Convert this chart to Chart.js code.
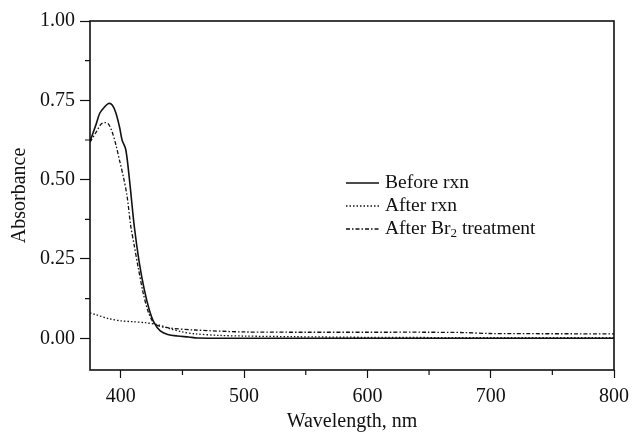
<!DOCTYPE html>
<html>
<head>
<meta charset="utf-8">
<script src="https://cdn.jsdelivr.net/npm/chart.js@4/dist/chart.umd.min.js"></script>
<style>
  html, body { margin: 0; padding: 0; background: #fff; }
  #wrap { width: 633px; height: 432px; }
</style>
</head>
<body>
<div id="wrap"><canvas id="uvChart" width="633" height="432"></canvas></div>
<script>
// --- Données ---
const beforeWl  = [375, 380, 383, 387, 390, 393, 396, 399, 401, 404, 407, 411, 415, 419, 423, 427, 432, 438, 446, 455, 462, 500, 600, 700, 800];
const beforeAbs = [0.62, 0.675, 0.71, 0.73, 0.74, 0.735, 0.71, 0.665, 0.625, 0.595, 0.50, 0.35, 0.238, 0.154, 0.091, 0.049, 0.023, 0.012, 0.007, 0.004, 0.001, 0.0, 0.0, 0.0, 0.0];

const afterWl  = [375, 380, 390, 400, 410, 420, 430, 440, 450, 460, 480, 500, 540, 600, 700, 800];
const afterAbs = [0.08, 0.074, 0.062, 0.055, 0.052, 0.049, 0.043, 0.03, 0.02, 0.014, 0.009, 0.007, 0.005, 0.003, 0.002, 0.002];

const brWl  = [375, 380, 384, 387, 390, 393, 396, 399, 402, 405, 408, 411, 414, 418, 422, 426, 430, 440, 460, 500, 550, 600, 650, 678, 700, 800];
const brAbs = [0.618, 0.65, 0.675, 0.68, 0.675, 0.65, 0.61, 0.56, 0.51, 0.45, 0.355, 0.29, 0.225, 0.145, 0.086, 0.052, 0.04, 0.032, 0.026, 0.02, 0.019, 0.019, 0.019, 0.018, 0.015, 0.014];

const seriesNames = ['Before rxn', 'After rxn', 'After Br2 treatment'];

const xTicks = [400, 500, 600, 700, 800];
const xMinorTicks = [450, 550, 650, 750];
const yTicks = [0, 0.25, 0.5, 0.75, 1.0];
const yMinorTicks = [0.125, 0.375, 0.625, 0.875];

const toPoints = (xs, ys) => xs.map((x, i) => ({ x: x, y: ys[i] }));

const serif = 'Liberation Serif, Times New Roman, serif';
const ink = '#111';

// --- Cadre + petites graduations ---
const framePlugin = {
    id: 'frame',
    afterDraw(chart) {
        const { ctx, chartArea: a, scales } = chart;
        ctx.save();
        ctx.strokeStyle = ink;
        ctx.lineWidth = 1.6;
        ctx.strokeRect(a.left, a.top, a.right - a.left, a.bottom - a.top);

        ctx.lineWidth = 1.2;
        ctx.beginPath();
        yMinorTicks.forEach(v => {
            const y = scales.y.getPixelForValue(v);
            ctx.moveTo(a.left, y);
            ctx.lineTo(a.left - 5, y);
        });
        xMinorTicks.forEach(v => {
            const x = scales.x.getPixelForValue(v);
            ctx.moveTo(x, a.bottom);
            ctx.lineTo(x, a.bottom + 5);
        });
        ctx.stroke();
        ctx.restore();
    }
};

// --- Légende dans le graphique ---
const legendPlugin = {
    id: 'innerLegend',
    afterDraw(chart) {
        const ctx = chart.ctx;
        const x0 = 346, x1 = 379, tx = 385;
        const rows = [183, 206, 229];
        ctx.save();
        chart.data.datasets.forEach((ds, i) => {
            const y = rows[i];
            ctx.strokeStyle = ink;
            ctx.lineWidth = ds.borderWidth;
            ctx.setLineDash(ds.borderDash || []);
            ctx.beginPath();
            ctx.moveTo(x0, y);
            ctx.lineTo(x1, y);
            ctx.stroke();
            ctx.setLineDash([]);

            ctx.fillStyle = ink;
            ctx.textBaseline = 'middle';
            ctx.font = '19.5px ' + serif;
            const name = seriesNames[i];
            const m = name.match(/^(.*?Br)(2)(.*)$/);
            if (m) {
                ctx.fillText(m[1], tx, y);
                let cx = tx + ctx.measureText(m[1]).width;
                ctx.font = '13px ' + serif;
                ctx.fillText(m[2], cx, y + 5);
                cx += ctx.measureText(m[2]).width;
                ctx.font = '19.5px ' + serif;
                ctx.fillText(m[3], cx, y);
            } else {
                ctx.fillText(name, tx, y);
            }
        });
        ctx.restore();
    }
};

const uvChart = new Chart(document.getElementById('uvChart'), {
    type: 'line',
    data: {
        datasets: [
            {
                label: seriesNames[0],
                data: toPoints(beforeWl, beforeAbs),
                borderColor: ink,
                borderWidth: 1.6,
                pointRadius: 0,
                tension: 0.3
            },
            {
                label: seriesNames[1],
                data: toPoints(afterWl, afterAbs),
                borderColor: ink,
                borderWidth: 1.3,
                borderDash: [1.5, 2],
                pointRadius: 0,
                tension: 0.3
            },
            {
                label: seriesNames[2],
                data: toPoints(brWl, brAbs),
                borderColor: ink,
                borderWidth: 1.3,
                borderDash: [4, 2, 1.5, 2],
                pointRadius: 0,
                tension: 0.3
            }
        ]
    },
    options: {
        responsive: false,
        animation: false,
        layout: { padding: { left: 0, top: 21, right: 19, bottom: 0 } },
        plugins: { legend: { display: false }, tooltip: { enabled: false } },
        scales: {
            x: {
                type: 'linear',
                min: 375,
                max: 800,
                afterBuildTicks: s => { s.ticks = xTicks.map(v => ({ value: v })); },
                afterFit: s => { s.height = 62; s.paddingLeft = 0; s.paddingRight = 0; },
                grid: { drawOnChartArea: false, drawTicks: true, tickLength: 8, tickColor: ink, tickWidth: 1.2 },
                border: { display: false },
                ticks: { color: ink, font: { family: serif, size: 20 }, padding: 7, maxRotation: 0 },
                title: { display: true, text: 'Wavelength, nm', color: ink, font: { family: serif, size: 20, lineHeight: 1 }, padding: { top: 0, bottom: 0 } }
            },
            y: {
                type: 'linear',
                min: -0.1,
                max: 1.0,
                afterBuildTicks: s => { s.ticks = yTicks.map(v => ({ value: v })); },
                afterFit: s => { s.width = 90; s.paddingTop = 0; s.paddingBottom = 0; },
                grid: { drawOnChartArea: false, drawTicks: true, tickLength: 10, tickColor: ink, tickWidth: 1.2 },
                border: { display: false },
                ticks: { color: ink, font: { family: serif, size: 20 }, padding: 5, callback: v => v.toFixed(2) },
                title: { display: true, text: 'Absorbance', color: ink, font: { family: serif, size: 20 }, padding: { top: 8, bottom: 0 } }
            }
        }
    },
    plugins: [framePlugin, legendPlugin]
});
</script>
</body>
</html>
